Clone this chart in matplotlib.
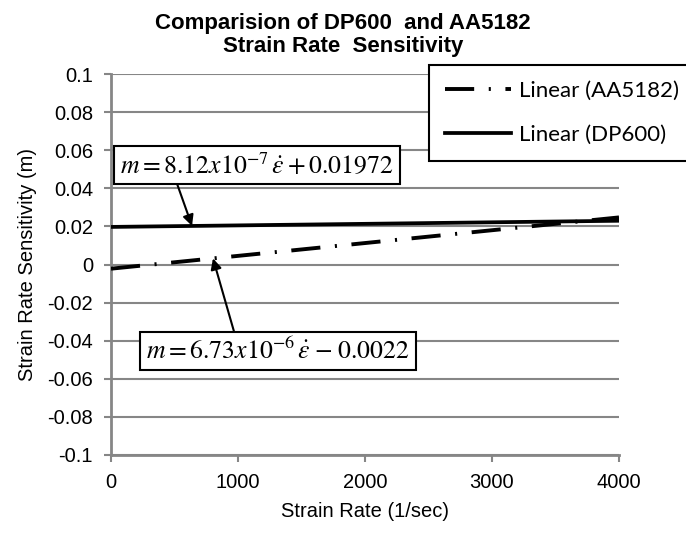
import matplotlib
matplotlib.use("Agg")
import matplotlib.pyplot as plt
import numpy as np

plt.rcParams['font.family'] = ['Liberation Sans', 'DejaVu Sans']
plt.rcParams['mathtext.fontset'] = 'stix'
plt.rcParams['lines.scale_dashes'] = False

# Strain-rate range of the fitted trend lines (1/sec)
strain_rate = [0, 4000]

# Linear fits m = slope * rate + intercept
series_names = ["Linear (AA5182)", "Linear (DP600)"]
slopes = [6.73e-6, 8.12e-7]
intercepts = [-0.0022, 0.01972]

eq_labels = [r"$m = 6.73x10^{-6}\,\dot{\varepsilon}\;{-}\;0.0022$",
             r"$m = 8.12x10^{-7}\,\dot{\varepsilon} + 0.01972$"]

x_ticks = [0, 1000, 2000, 3000, 4000]
y_ticks = [-0.1, -0.08, -0.06, -0.04, -0.02, 0, 0.02, 0.04, 0.06, 0.08, 0.1]
y_tick_labels = ["-0.1", "-0.08", "-0.06", "-0.04", "-0.02", "0",
                 "0.02", "0.04", "0.06", "0.08", "0.1"]

W, H = 686, 533
fig = plt.figure(figsize=(W / 100, H / 100), dpi=100)
ax = fig.add_axes([111 / W, 1 - 455 / H, (619 - 111) / W, (455 - 74) / H])

grey = "#868686"
x = np.array(strain_rate, dtype=float)

line_aa = ax.plot(x, slopes[0] * x + intercepts[0], color="black", lw=2.8,
                  dashes=(21, 10.5, 1.5, 10.5), dash_capstyle="butt",
                  label=series_names[0], zorder=3)[0]
line_dp = ax.plot(x, slopes[1] * x + intercepts[1], color="black", lw=2.7,
                  label=series_names[1], zorder=3)[0]

ax.set_xlim(0, 4000)
ax.set_ylim(-0.1, 0.1)
ax.set_xticks(x_ticks)
ax.set_xticklabels([str(v) for v in x_ticks])
ax.set_yticks(y_ticks)
ax.set_yticklabels(y_tick_labels)
ax.grid(axis="y", color=grey, lw=1.5)
ax.set_axisbelow(True)
for s in ["top", "right"]:
    ax.spines[s].set_visible(False)
for s in ["left", "bottom"]:
    ax.spines[s].set_color(grey)
    ax.spines[s].set_linewidth(2)
ax.tick_params(axis="both", colors=grey, length=5, width=1.5,
               labelcolor="black", labelsize=14.5)
ax.tick_params(axis="x", pad=8)
ax.tick_params(axis="y", pad=8)

ax.set_xlabel("Strain Rate (1/sec)", fontsize=14.5, labelpad=7)
ax.set_ylabel("Strain Rate Sensitivity (m)", fontsize=14.5, labelpad=7)

fig.suptitle("Comparision of DP600  and AA5182\nStrain Rate  Sensitivity",
             x=0.5, y=1 - 13 / H, fontsize=16, fontweight="bold",
             linespacing=1.12, va="top")

# Legend box extending past the right edge
leg = ax.legend(handles=[line_aa, line_dp], loc="upper left",
                bbox_to_anchor=(429 / W, 1 - 65 / H),
                bbox_transform=fig.transFigure, frameon=True, fancybox=False,
                edgecolor="black", framealpha=1, borderaxespad=0,
                handlelength=3.0, handletextpad=0.35, labelspacing=1.1,
                borderpad=0.7, prop={"family": "Lato", "size": 16})
leg.get_frame().set_linewidth(1.5)

box = dict(boxstyle="square,pad=0.24", fc="white", ec="black", lw=1.5)
arrow = dict(arrowstyle="-|>", color="black", lw=1.5, mutation_scale=16,
             shrinkA=0, shrinkB=0)

# DP600 equation
x_dp = 638
ax.annotate(eq_labels[1], xy=(x_dp, slopes[1] * x_dp + intercepts[1]),
            xycoords="data", xytext=(257 / W, 1 - 165 / H),
            textcoords="figure fraction", ha="center", va="center",
            fontsize=18.5, bbox=box,
            arrowprops=dict(arrow, relpos=(0.2, 0.0)), zorder=5)

# AA5182 equation
x_aa = 803
ax.annotate(eq_labels[0], xy=(x_aa, slopes[0] * x_aa + intercepts[0]),
            xycoords="data", xytext=(278 / W, 1 - 351 / H),
            textcoords="figure fraction", ha="center", va="center",
            fontsize=18.5, bbox=box,
            arrowprops=dict(arrow, relpos=(0.34, 1.0)), zorder=5)

fig.savefig("out.png", dpi=100)
